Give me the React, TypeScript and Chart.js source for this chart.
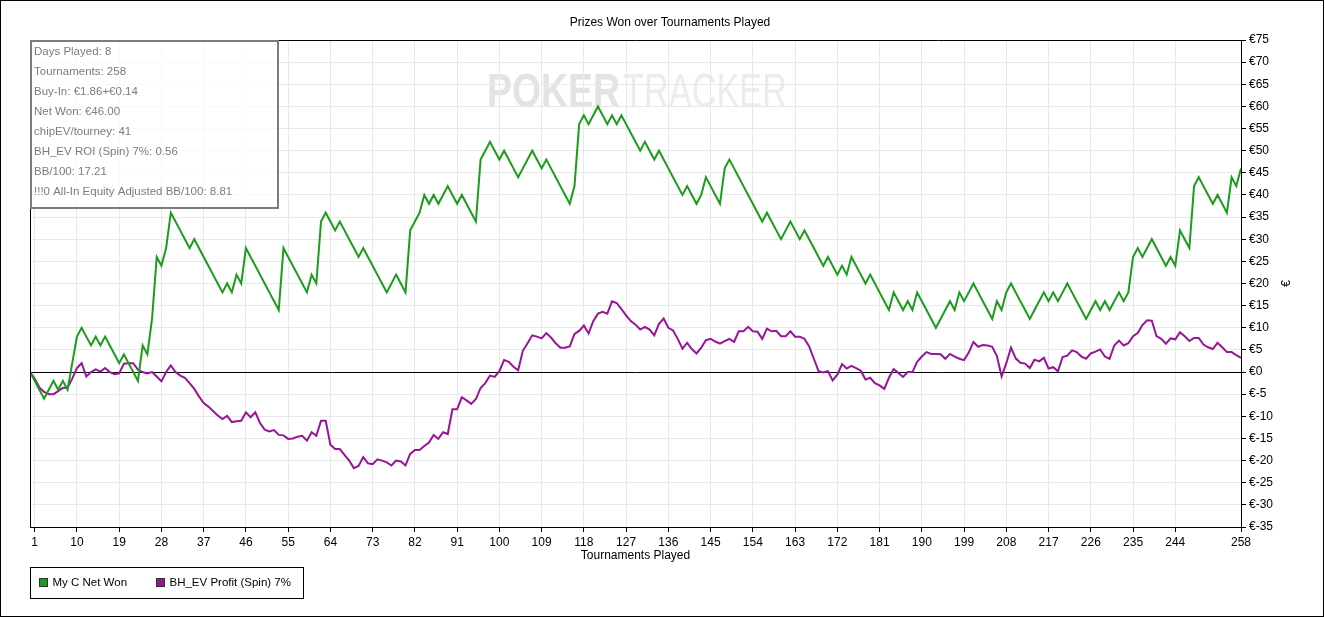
import { useEffect, useRef } from 'react';
import { Chart, registerables } from 'chart.js';

Chart.register(...registerables);

// tournament number for each point (0 = start)
const tournaments = Array.from({ length: 259 }, (_, i) => i);

const xTickValues = [1, 10, 19, 28, 37, 46, 55, 64, 73, 82, 91, 100, 109, 118, 127, 136, 145, 154, 163, 172, 181, 190, 199, 208, 217, 226, 235, 244, 258];

const netWon = [
    0, -2, -4, -6, -4, -2, -4, -2, -4, 2,
    8, 10, 8, 6, 8, 6, 8, 6, 4, 2,
    4, 2, 0, -2, 6, 4, 12, 26, 24, 28,
    36, 34, 32, 30, 28, 30, 28, 26, 24, 22,
    20, 18, 20, 18, 22, 20, 28, 26, 24, 22,
    20, 18, 16, 14, 28, 26, 24, 22, 20, 18,
    22, 20, 34, 36, 34, 32, 34, 32, 30, 28,
    26, 28, 26, 24, 22, 20, 18, 20, 22, 20,
    18, 32, 34, 36, 40, 38, 40, 38, 40, 42,
    40, 38, 40, 38, 36, 34, 48, 50, 52, 50,
    48, 50, 48, 46, 44, 46, 48, 50, 48, 46,
    48, 46, 44, 42, 40, 38, 42, 56, 58, 56,
    58, 60, 58, 56, 58, 56, 58, 56, 54, 52,
    50, 52, 50, 48, 50, 48, 46, 44, 42, 40,
    42, 40, 38, 40, 44, 42, 40, 38, 46, 48,
    46, 44, 42, 40, 38, 36, 34, 36, 34, 32,
    30, 32, 34, 32, 30, 32, 30, 28, 26, 24,
    26, 24, 22, 24, 22, 26, 24, 22, 20, 22,
    20, 18, 16, 14, 18, 16, 14, 16, 14, 18,
    16, 14, 12, 10, 12, 14, 16, 14, 18, 16,
    18, 20, 18, 16, 14, 12, 16, 14, 18, 20,
    18, 16, 14, 12, 14, 16, 18, 16, 18, 16,
    18, 20, 18, 16, 14, 12, 14, 16, 14, 16,
    14, 16, 18, 16, 18, 26, 28, 26, 28, 30,
    28, 26, 24, 26, 24, 32, 30, 28, 42, 44,
    42, 40, 38, 40, 38, 36, 44, 42, 46,
];

const bhEvProfit = [
    0, -1.5, -3.5, -4.5, -5, -5, -4.3, -3.6, -3.5, -1.5,
    0.9, 2, -1, 0, 0.6, 0.1, 0.9, 0, -0.5, -0.3,
    1.9, 2, 2, 0.5, 0, -0.3, 0, -1, -2.1, 0,
    1.5, 0, -0.8, -1.3, -2.5, -3.8, -5.5, -7, -7.8, -8.8,
    -9.8, -10.6, -9.9, -11.3, -11.1, -11, -9.1, -10.2, -9.1, -11.5,
    -13, -13.4, -13.1, -14.2, -14.3, -15.1, -15, -14.6, -14.4, -15.5,
    -13.6, -14.4, -11, -11, -16.4, -17.4, -17.4, -18.7, -20, -21.7,
    -21.2, -19.2, -20.6, -20.8, -19.7, -20, -20.4, -21.1, -20, -20.2,
    -21.1, -18.5, -17.6, -17.6, -16.7, -15.9, -14.2, -15.1, -13.6, -14,
    -8.4, -8.4, -5.7, -6.4, -7.2, -6.1, -3.6, -2.5, -0.8, -1.1,
    0.2, 2.7, 2.3, 1.2, 0.4, 4.8, 6.5, 8.3, 8, 7.6,
    8.8, 7.8, 6.5, 5.5, 5.5, 5.8, 8.6, 9.3, 10.5, 8.7,
    11.5, 13.2, 13.6, 13.2, 16, 15.6, 14.2, 12.8, 11.5, 10.7,
    9.6, 10.2, 9.6, 8.3, 10.9, 12.1, 10, 9.4, 7.5, 5.3,
    6.6, 5.2, 4.2, 5.5, 7.2, 7.5, 6.9, 6.4, 7, 7.5,
    6.8, 9.2, 9.2, 10.2, 9.2, 9.1, 7.5, 9.8, 9.2, 9.3,
    8.1, 8.1, 9.2, 8, 8, 7.5, 5.8, 3, 0.2, -0.1,
    0.2, -1.9, -0.6, 1.8, 0.8, 1.4, 0.9, 0.3, -1.7, -1.3,
    -2.5, -3, -3.8, -1.3, 0.7, -0.2, -1.1, 0, 0, 2.3,
    3.5, 4.5, 4.1, 4.1, 4, 3, 4.1, 3.5, 3, 2.7,
    4.4, 6.8, 5.7, 6.1, 6, 5.7, 3.6, -1, 2, 5.5,
    3.1, 2.1, 1.9, 0.9, 2.8, 2.4, 3.2, 0.8, 1.1, 0.2,
    3.4, 3.7, 4.9, 4.5, 3.5, 3, 4.2, 4.6, 5.1, 3.5,
    3, 6, 7.1, 6, 6.5, 8.1, 8.8, 10.6, 11.7, 11.6,
    8.1, 7.5, 6.4, 7.6, 7.4, 9, 8.1, 7, 7.7, 7.7,
    6.2, 5.6, 5.2, 6.6, 5.6, 4.5, 4.5, 3.8, 3.2,
];

const statsLines = [
    'Days Played: 8',
    'Tournaments: 258',
    'Buy-In: €1.86+€0.14',
    'Net Won: €46.00',
    'chipEV/tourney: 41',
    'BH_EV ROI (Spin) 7%: 0.56',
    'BB/100: 17.21',
    '!!!0 All-In Equity Adjusted BB/100: 8.81',
];

const FONT = '"Liberation Sans", Arial, sans-serif';

const decorPlugin = {
    id: 'decor',
    beforeDraw(chart: any) {
        const { ctx, width, height } = chart;
        ctx.save();
        ctx.fillStyle = '#fff';
        ctx.fillRect(0, 0, width, height);

        // watermark
        const marks = [
            { text: 'POKER', x: 487, w: 133, font: 'bold 49px ' + FONT, color: '#e3e3e3' },
            { text: 'TRACKER', x: 623, w: 164, font: '49px ' + FONT, color: '#ececec' },
        ];
        ctx.textBaseline = 'alphabetic';
        ctx.textAlign = 'left';
        marks.forEach(m => {
            ctx.save();
            ctx.font = m.font;
            ctx.fillStyle = m.color;
            const mw = ctx.measureText(m.text).width;
            ctx.translate(m.x, 107);
            ctx.scale(m.w / mw, 1);
            ctx.fillText(m.text, 0, 0);
            ctx.restore();
        });
        ctx.restore();
    },
    afterDraw(chart: any) {
        const { ctx, chartArea } = chart;
        ctx.save();

        // plot frame top/left
        ctx.strokeStyle = '#000';
        ctx.lineWidth = 1;
        ctx.beginPath();
        ctx.moveTo(chartArea.left + 0.5, chartArea.bottom);
        ctx.lineTo(chartArea.left + 0.5, chartArea.top + 0.5);
        ctx.lineTo(chartArea.right, chartArea.top + 0.5);
        ctx.stroke();

        // title
        ctx.fillStyle = '#000';
        ctx.font = '12px ' + FONT;
        ctx.textAlign = 'center';
        ctx.textBaseline = 'middle';
        ctx.fillText('Prizes Won over Tournaments Played', 670, 23);

        // x axis title
        ctx.fillText('Tournaments Played', (chartArea.left + chartArea.right) / 2, 556);

        // y axis title
        ctx.save();
        ctx.translate(1287, (chartArea.top + chartArea.bottom) / 2);
        ctx.rotate(-Math.PI / 2);
        ctx.fillText('€', 0, 0);
        ctx.restore();

        // stats box
        ctx.fillStyle = 'rgba(255,255,255,0.75)';
        ctx.fillRect(31, 41, 247, 167);
        ctx.strokeStyle = '#7c7c7c';
        ctx.lineWidth = 2;
        ctx.strokeRect(31, 41, 247, 167);
        ctx.fillStyle = '#7c7c7c';
        ctx.font = '11.5px ' + FONT;
        ctx.textAlign = 'left';
        statsLines.forEach((line, i) => {
            ctx.fillText(line, 34, 52 + i * 20);
        });

        // legend
        ctx.lineWidth = 1;
        ctx.strokeStyle = '#000';
        ctx.strokeRect(30.5, 567.5, 273, 31);
        const legendX = [39.5, 156.5];
        chart.data.datasets.forEach((ds: any, i: number) => {
            ctx.fillStyle = ds.borderColor;
            ctx.fillRect(legendX[i], 578.5, 8, 8);
            ctx.strokeStyle = '#333';
            ctx.strokeRect(legendX[i], 578.5, 8, 8);
            ctx.fillStyle = '#000';
            ctx.font = '11.5px ' + FONT;
            ctx.fillText(ds.label, legendX[i] + 13, 583);
        });

        // outer frame
        ctx.strokeStyle = '#000';
        ctx.strokeRect(0.5, 0.5, 1323, 616);
        ctx.restore();
    },
};

const App = () => {
    const canvasRef = useRef<HTMLCanvasElement>(null);

    useEffect(() => {
        let myChart: any = null;

        if (canvasRef.current) {
            myChart = new Chart(canvasRef.current, {
                type: 'line',
                data: {
                    labels: tournaments,
                    datasets: [
                        {
                            label: 'My C Net Won',
                            data: netWon,
                            borderColor: '#1c9c1c',
                            backgroundColor: '#1c9c1c',
                            borderWidth: 2,
                            pointRadius: 0,
                            tension: 0,
                        },
                        {
                            label: 'BH_EV Profit (Spin) 7%',
                            data: bhEvProfit,
                            borderColor: '#981598',
                            backgroundColor: '#981598',
                            borderWidth: 2,
                            pointRadius: 0,
                            tension: 0,
                        },
                    ],
                },
                options: {
                    responsive: false,
                    animation: false,
                    layout: {
                        padding: { left: 30, top: 40, right: 24, bottom: 50 },
                    },
                    plugins: {
                        legend: { display: false },
                        title: { display: false },
                        tooltip: { enabled: false },
                    },
                    scales: {
                        x: {
                            type: 'linear',
                            min: 0,
                            max: 258,
                            afterBuildTicks: (scale: any) => {
                                scale.ticks = xTickValues.map(value => ({ value }));
                            },
                            afterFit: (scale: any) => {
                                scale.height = 40;
                            },
                            ticks: {
                                autoSkip: false,
                                maxRotation: 0,
                                padding: 3,
                                color: '#000',
                                font: { family: FONT, size: 12 },
                            },
                            grid: {
                                color: '#e8e8e8',
                                tickColor: '#000',
                                tickLength: 5,
                            },
                            border: { color: '#000' },
                        },
                        y: {
                            type: 'linear',
                            position: 'right',
                            min: -35,
                            max: 75,
                            afterFit: (scale: any) => {
                                scale.width = 60;
                            },
                            ticks: {
                                stepSize: 5,
                                padding: 3,
                                color: '#000',
                                font: { family: FONT, size: 12 },
                                callback: (v: any) => '€' + v,
                            },
                            grid: {
                                color: (c: any) => (c.tick && c.tick.value === 0 ? '#000' : '#e8e8e8'),
                                tickColor: '#000',
                                tickLength: 5,
                            },
                            border: { color: '#000' },
                        },
                    },
                },
                plugins: [decorPlugin],
            });
        }

        return () => {
            if (myChart) {
                myChart.destroy();
            }
        };
    }, []);

    return (
        <div style={{ position: 'fixed', left: 0, top: 0, width: 1325, height: 617, background: '#fff' }}>
            <canvas ref={canvasRef} width={1325} height={617} style={{ display: 'block', width: 1325, height: 617 }}></canvas>
        </div>
    );
};

export default App;
